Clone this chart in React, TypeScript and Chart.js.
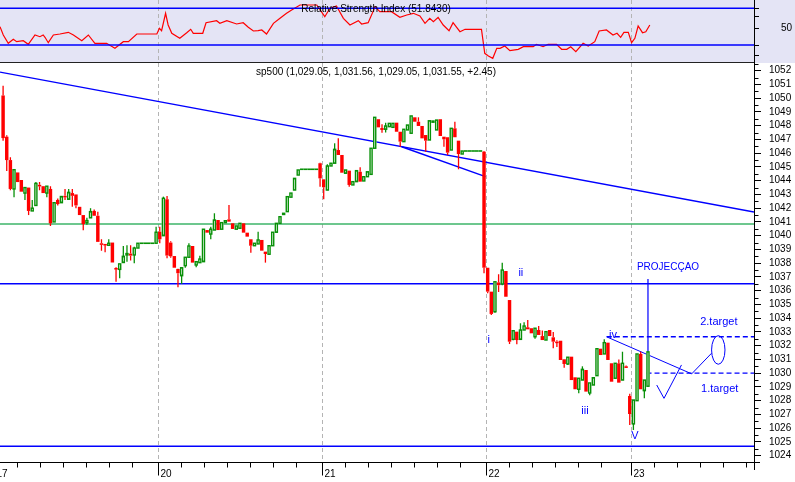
import React, { useEffect, useRef } from 'react';
import { Chart, registerables } from 'chart.js';
Chart.register(...registerables);

const FONT = '"Liberation Sans", Arial, Helvetica, sans-serif';
const BLUE = '#0000ff';
const RED = '#ff0000';
const GREEN = '#089008';
const LEVEL_GREEN = '#3cb468';
const GRID_GRAY = '#b4b4b4';
const RSI_BG = '#e4e4f5';

// ---- time axis (slots of one candle) ----
const X_MIN = 1.65;
const X_MAX = 208.6;
const dayLabels = ['17', '20', '21', '22', '23'];
const dayStartSlots = [0, 45, 90, 135, 174.8];
const hourTickStep = 6.3;

// ---- price axis ----
const Y_MIN = 1023.54;
const Y_MAX = 1052.56;
const priceTicks = [1024, 1025, 1026, 1027, 1028, 1029, 1030, 1031, 1032, 1033, 1034, 1035, 1036, 1037, 1038, 1039, 1040, 1041, 1042, 1043, 1044, 1045, 1046, 1047, 1048, 1049, 1050, 1051, 1052];

const mainTitle = 'sp500 (1,029.05, 1,031.56, 1,029.05, 1,031.55, +2.45)';
const rsiTitle = 'Relative Strength Index (51.8430)';

// ---- candles [open, high, low, close] ----
const day17Start = 2;
const day17 = [
  [1050.2, 1050.9, 1046.9, 1047.1], [1047.2, 1047.3, 1044.7, 1045.5], [1045.5, 1045.7, 1043.3, 1043.4],
  [1043.4, 1044.8, 1042.8, 1044.8], [1044.6, 1044.6, 1043.9, 1043.9], [1044.05, 1044.05, 1043.2, 1043.2],
  [1043.1, 1043.5, 1042.6, 1043.5], [1043.5, 1043.5, 1041.5, 1041.8], [1041.8, 1042.6, 1041.8, 1042.0],
  [1042.2, 1043.9, 1042.2, 1043.8], [1043.7, 1043.9, 1043.3, 1043.6], [1043.6, 1043.6, 1043.1, 1043.1],
  [1043.1, 1043.6, 1042.8, 1043.6], [1043.4, 1043.6, 1040.7, 1040.9], [1041.0, 1042.4, 1041.0, 1042.4],
  [1042.6, 1042.7, 1042.2, 1042.3], [1042.4, 1042.85, 1042.4, 1042.85], [1042.9, 1043.4, 1042.6, 1042.8],
  [1042.65, 1043.4, 1042.65, 1043.15], [1043.1, 1043.4, 1042.1, 1042.9], [1043.0, 1043.0, 1042.0, 1042.2],
  [1042.1, 1042.1, 1041.5, 1041.5], [1041.5, 1041.5, 1040.4, 1040.85], [1040.95, 1041.3, 1040.8, 1041.1],
  [1041.3, 1042.0, 1041.3, 1041.75], [1041.8, 1041.9, 1041.45, 1041.45], [1041.45, 1041.75, 1039.55, 1039.55],
  [1039.45, 1039.75, 1038.9, 1039.35], [1039.4, 1039.4, 1038.8, 1039.3], [1039.3, 1039.75, 1039.3, 1039.45],
  [1039.5, 1039.5, 1038.05, 1038.05], [1037.65, 1037.7, 1036.65, 1037.55], [1037.55, 1037.95, 1036.9, 1037.95],
  [1038.05, 1039.25, 1038.05, 1038.5], [1038.6, 1039.3, 1038.1, 1038.7], [1038.7, 1039.3, 1038.2, 1038.55],
  [1038.6, 1039.2, 1038.0, 1039.1], [1039.1, 1039.45, 1039.1, 1039.45],
  [1039.45, 1039.45, 1039.45, 1039.45], [1039.45, 1039.45, 1039.45, 1039.45],
  [1039.45, 1039.45, 1039.45, 1039.45], [1039.45, 1039.45, 1039.45, 1039.45],
];

const day20Start = 44;
const day20 = [
  [1039.45, 1040.65, 1039.45, 1040.25], [1040.29, 1040.65, 1039.45, 1039.74], [1040.0, 1042.84, 1040.0, 1042.72],
  [1042.65, 1042.89, 1038.36, 1038.55], [1039.5, 1039.6, 1038.4, 1038.5], [1038.52, 1038.52, 1037.67, 1037.67],
  [1037.58, 1037.6, 1036.25, 1037.27], [1037.09, 1037.67, 1036.49, 1037.67], [1037.82, 1038.43, 1037.67, 1038.43],
  [1038.43, 1039.45, 1038.43, 1039.25], [1039.25, 1039.25, 1038.04, 1038.04], [1037.87, 1038.11, 1037.7, 1038.11],
  [1038.04, 1038.55, 1038.04, 1038.3], [1038.11, 1040.47, 1038.11, 1040.47], [1040.41, 1040.41, 1040.22, 1040.22],
  [1040.12, 1040.65, 1039.74, 1040.47], [1040.41, 1041.63, 1040.41, 1041.14], [1041.14, 1041.14, 1040.41, 1040.41],
  [1040.47, 1040.95, 1040.47, 1040.95], [1040.95, 1041.09, 1040.95, 1041.09], [1041.19, 1042.23, 1041.02, 1041.02],
  [1040.9, 1040.9, 1040.49, 1040.49], [1040.47, 1040.71, 1040.47, 1040.71], [1040.54, 1040.9, 1040.54, 1040.9],
  [1040.9, 1040.9, 1040.22, 1040.22], [1040.22, 1040.22, 1039.93, 1039.93], [1039.74, 1039.74, 1038.76, 1039.27],
  [1039.27, 1039.45, 1039.27, 1039.45], [1039.4, 1040.29, 1039.4, 1039.69], [1039.69, 1039.69, 1038.91, 1038.91],
  [1038.84, 1038.84, 1038.04, 1038.67], [1038.65, 1039.27, 1038.65, 1039.27], [1039.27, 1040.25, 1039.27, 1040.25],
  [1040.25, 1040.9, 1040.25, 1040.9], [1040.9, 1041.38, 1040.9, 1041.38], [1041.58, 1041.63, 1041.58, 1041.63],
  [1041.75, 1042.84, 1041.75, 1042.84], [1042.8, 1043.1, 1042.8, 1043.1], [1043.32, 1044.17, 1043.32, 1044.17],
  [1044.41, 1044.78, 1044.41, 1044.78],
  [1044.83, 1044.83, 1044.83, 1044.83], [1044.83, 1044.83, 1044.83, 1044.83], [1044.83, 1044.83, 1044.83, 1044.83],
  [1044.83, 1044.83, 1044.83, 1044.83], [1044.83, 1044.83, 1044.83, 1044.83],
];

const day21Start = 89;
const day21 = [
  [1045.27, 1045.3, 1043.56, 1044.17], [1044.1, 1044.1, 1042.65, 1043.52], [1043.32, 1045.2, 1043.3, 1045.07],
  [1045.07, 1045.27, 1045.07, 1045.27], [1045.27, 1046.72, 1045.27, 1046.28], [1046.23, 1047.08, 1045.87, 1045.87],
  [1045.87, 1045.87, 1044.58, 1044.58], [1044.54, 1044.78, 1044.54, 1044.78], [1044.73, 1044.73, 1043.56, 1043.69],
  [1043.69, 1043.93, 1043.69, 1043.93], [1043.93, 1044.73, 1043.93, 1044.73], [1044.65, 1044.97, 1043.93, 1043.93],
  [1043.98, 1044.29, 1043.98, 1044.29], [1044.29, 1044.65, 1044.29, 1044.65], [1044.46, 1046.36, 1044.46, 1046.36],
  [1046.36, 1048.61, 1046.36, 1048.61], [1048.47, 1048.47, 1047.88, 1047.88], [1047.83, 1048.1, 1047.49, 1047.69],
  [1047.74, 1048.22, 1047.5, 1047.98], [1047.93, 1048.17, 1047.93, 1048.17], [1047.88, 1048.17, 1047.88, 1048.17],
  [1048.22, 1048.22, 1047.56, 1047.56], [1047.56, 1047.56, 1046.47, 1046.84], [1046.84, 1047.74, 1046.84, 1047.74],
  [1047.69, 1048.05, 1047.69, 1048.05], [1047.45, 1048.71, 1047.45, 1048.71], [1048.61, 1048.61, 1048.29, 1048.29],
  [1048.29, 1048.61, 1047.98, 1047.98], [1047.98, 1047.98, 1047.08, 1047.08], [1047.32, 1047.32, 1046.11, 1046.91],
  [1046.96, 1048.36, 1046.96, 1048.36], [1048.27, 1048.34, 1048.27, 1048.34], [1047.69, 1048.41, 1047.69, 1048.41],
  [1048.47, 1048.47, 1047.25, 1047.25], [1047.2, 1047.2, 1046.47, 1047.01], [1047.16, 1047.16, 1045.87, 1046.04],
  [1046.23, 1047.81, 1046.23, 1047.81], [1047.81, 1048.29, 1047.16, 1047.16], [1046.91, 1046.91, 1044.83, 1045.94],
  [1045.94, 1046.16, 1045.94, 1046.16],
  [1046.16, 1046.16, 1046.16, 1046.16], [1046.16, 1046.16, 1046.16, 1046.16], [1046.16, 1046.16, 1046.16, 1046.16],
  [1046.16, 1046.16, 1046.16, 1046.16], [1046.16, 1046.16, 1046.16, 1046.16],
];

const day22Start = 134;
const day22 = [
  [1046.11, 1046.16, 1037.27, 1037.67], [1037.67, 1037.67, 1035.81, 1035.93], [1035.93, 1035.93, 1034.23, 1034.31],
  [1034.47, 1036.65, 1034.4, 1036.65], [1036.6, 1037.2, 1035.9, 1036.4], [1036.49, 1038.04, 1036.4, 1037.5],
  [1037.43, 1037.43, 1035.56, 1035.56], [1035.32, 1035.32, 1032.12, 1032.29], [1032.46, 1033.09, 1032.4, 1033.09],
  [1033.02, 1033.02, 1032.1, 1032.41], [1032.46, 1033.63, 1032.46, 1033.14], [1033.14, 1033.7, 1033.14, 1033.43],
  [1033.34, 1033.87, 1033.19, 1033.19], [1033.27, 1033.27, 1032.9, 1032.9], [1032.65, 1033.27, 1032.5, 1033.27],
  [1033.14, 1033.43, 1032.78, 1032.78], [1032.7, 1033.1, 1032.41, 1032.41], [1032.41, 1033.02, 1032.41, 1033.02],
  [1033.14, 1033.14, 1032.7, 1032.7], [1032.61, 1033.0, 1031.81, 1032.29], [1032.3, 1032.4, 1031.9, 1032.2],
  [1032.36, 1032.36, 1030.96, 1030.96], [1031.01, 1031.01, 1030.4, 1030.67], [1030.67, 1031.16, 1030.6, 1031.16],
  [1031.2, 1031.2, 1029.5, 1029.5], [1029.7, 1029.7, 1028.83, 1028.83], [1028.83, 1029.63, 1028.54, 1029.63],
  [1029.5, 1030.5, 1029.5, 1030.28], [1030.23, 1030.23, 1028.66, 1028.66], [1028.56, 1029.29, 1028.4, 1029.29],
  [1029.14, 1029.67, 1029.14, 1029.67], [1029.82, 1031.78, 1029.82, 1031.78], [1031.78, 1031.78, 1031.32, 1031.32],
  [1031.4, 1032.46, 1031.4, 1032.22], [1032.22, 1032.22, 1030.96, 1030.96], [1030.72, 1030.72, 1029.38, 1029.38],
  [1029.63, 1030.72, 1029.63, 1030.72], [1030.72, 1031.0, 1029.31, 1029.31], [1029.5, 1031.56, 1029.5, 1030.72],
  [1030.5, 1030.55, 1030.4, 1030.47],
];

const day23Start = 174;
const day23 = [
  [1028.34, 1028.5, 1026.23, 1027.03], [1026.31, 1028.05, 1025.87, 1028.05], [1028.0, 1031.4, 1028.0, 1031.4],
  [1031.4, 1031.56, 1028.83, 1028.83], [1028.73, 1029.5, 1028.18, 1029.5], [1029.05, 1031.56, 1029.05, 1031.55],
];

const candleDays: [number, number[][]][] = [
  [day17Start, day17], [day20Start, day20], [day21Start, day21], [day22Start, day22], [day23Start, day23],
];

// ---- horizontal levels and drawn lines ----
const levelGreenValue = 1040.85;
const levelBlueUpper = 1036.5;
const levelBlueLower = 1024.68;
const target2Value = 1032.65;
const target1Value = 1030.0;
const target2FromSlot = 168.2;
const target1FromSlot = 179.1;
const trendMain = [[X_MIN, 1051.9], [X_MAX, 1041.72]];
const trendShort = [[111.9, 1046.47], [134.9, 1044.29]];
const ivLine = [[168.1, 1032.65], [191.5, 1029.95]];
const riseLine = [[191.5, 1029.95], [196.95, 1031.45]];
const vShape = [[181.9, 1029.14], [183.9, 1028.17], [188.7, 1030.6]];
const projLine = [[179.5, 1036.85], [179.5, 1031.33]];
const ellipseCenter = [198.8, 1031.69];
const ellipseRadii = [1.84, 1.04];

const noteTexts = ['PROJECÇAO', '2.target', '1.target', 'i', 'ii', 'iii', 'iv', 'V'];
const noteSlots = [185.0, 198.95, 199.2, 135.8, 144.6, 162.2, 169.9, 175.9];
const noteValues = [1037.71, 1033.72, 1028.85, 1032.41, 1037.29, 1027.25, 1032.8, 1025.44];
const noteSizes = [10, 11, 11, 11, 11, 11, 11, 11];

// ---- RSI ----
const RSI_MIN = 15.3;
const RSI_MAX = 78.3;
const rsiUpper = 70;
const rsiLower = 33.3;
const rsiTicks = [23.3, 33.3, 50, 61.6, 70];
const rsiSlots = [1.65, 2.55, 3.92, 5.3, 6.23, 8.04, 9.41, 11.25, 12.6, 13.5, 14.0, 14.9, 16.3, 18.1, 20.4, 21.8, 24.1, 25.9, 27.7, 30.9, 33.2, 35.5, 36.9, 39.2, 44.7, 45.4, 46.0, 47.1, 47.8, 48.8, 51.0, 52.9, 54.0, 54.7, 57.3, 58.2, 61.1, 62.0, 63.9, 66.6, 68.4, 69.8, 71.2, 72.5, 73.5, 74.8, 76.7, 78.5, 80.3, 81.7, 84.0, 88.6, 90.8, 92.2, 94.0, 95.9, 97.7, 100.0, 100.9, 102.7, 104.6, 105.9, 109.1, 111.4, 113.3, 115.1, 116.9, 118.3, 119.6, 120.6, 121.9, 123.3, 124.9, 126.0, 127.9, 129.3, 133.8, 134.7, 135.7, 136.9, 138.0, 138.9, 140.2, 141.6, 143.9, 145.3, 148.0, 148.9, 150.7, 152.1, 154.4, 155.8, 157.2, 158.3, 159.7, 161.7, 163.1, 164.9, 166.1, 168.1, 169.9, 171.0, 172.0, 172.9, 174.1, 175.0, 175.9, 176.8, 178.0, 178.9, 180.0];
const rsiValues = [51.6, 43.3, 35.0, 39.0, 36.6, 37.6, 34.0, 43.3, 41.6, 43.3, 41.0, 35.6, 43.3, 44.3, 46.0, 43.3, 37.6, 43.3, 35.0, 35.0, 30.0, 36.6, 36.6, 44.3, 44.3, 50.0, 47.6, 65.0, 53.3, 45.0, 40.0, 45.6, 49.0, 45.0, 45.0, 55.6, 57.6, 55.0, 57.6, 54.3, 55.6, 51.0, 47.3, 47.6, 48.3, 44.3, 55.0, 60.0, 65.0, 68.3, 73.3, 73.3, 61.6, 70.0, 72.3, 60.0, 53.3, 57.6, 54.3, 55.6, 71.6, 66.6, 66.6, 61.0, 63.3, 65.0, 62.3, 55.0, 60.0, 56.6, 61.0, 53.3, 47.6, 55.6, 46.6, 49.0, 49.0, 25.0, 22.3, 20.0, 30.0, 30.0, 32.3, 27.6, 29.0, 31.6, 31.6, 34.0, 31.6, 34.0, 34.0, 29.0, 29.0, 31.6, 26.6, 35.0, 32.3, 36.6, 47.3, 48.3, 43.3, 45.0, 41.0, 46.0, 46.0, 35.6, 40.0, 52.3, 45.6, 46.6, 53.3];

const pts = (arr: number[][]) => arr.map(([x, y]) => ({ x, y }));

const dayGridPlugin = {
  id: 'dayGrid',
  beforeDatasetsDraw(chart: any) {
    const { ctx, chartArea: a, scales: { x } } = chart;
    ctx.save();
    ctx.strokeStyle = GRID_GRAY;
    ctx.lineWidth = 1;
    ctx.setLineDash([4, 3]);
    dayStartSlots.forEach((s) => {
      const px = Math.round(x.getPixelForValue(s)) + 0.5;
      if (px < a.left || px > a.right) return;
      ctx.beginPath();
      ctx.moveTo(px, a.top);
      ctx.lineTo(px, a.bottom);
      ctx.stroke();
    });
    ctx.restore();
  },
};

const candlePlugin = {
  id: 'candles',
  afterDatasetsDraw(chart: any) {
    const { ctx, chartArea: a, scales: { x, y } } = chart;
    ctx.save();
    ctx.beginPath();
    ctx.rect(a.left, a.top, a.right - a.left, a.bottom - a.top);
    ctx.clip();
    const slotPx = x.getPixelForValue(1) - x.getPixelForValue(0);
    const bodyW = slotPx - 0.2;
    candleDays.forEach(([start, arr]) => {
      arr.forEach((c, i) => {
        const [o, h, l, cl] = c;
        const cx = x.getPixelForValue(start + i + 0.5);
        if (o === h && h === l && l === cl) {
          const yy = y.getPixelForValue(o);
          ctx.strokeStyle = GREEN;
          ctx.lineWidth = 1.6;
          ctx.beginPath();
          ctx.moveTo(cx - slotPx / 2, yy);
          ctx.lineTo(cx + slotPx / 2, yy);
          ctx.stroke();
          return;
        }
        const up = cl >= o;
        const col = up ? GREEN : RED;
        const yo = y.getPixelForValue(o);
        const yc = y.getPixelForValue(cl);
        const yh = y.getPixelForValue(h);
        const yl = y.getPixelForValue(l);
        const top = Math.min(yo, yc);
        const bot = Math.max(yo, yc);
        ctx.strokeStyle = col;
        ctx.lineWidth = 1.3;
        ctx.beginPath();
        ctx.moveTo(cx, yh);
        ctx.lineTo(cx, top);
        ctx.moveTo(cx, bot);
        ctx.lineTo(cx, yl);
        ctx.stroke();
        if (up) {
          const hgt = Math.max(bot - top, 1.2);
          ctx.fillStyle = '#ffffff';
          ctx.fillRect(cx - bodyW / 2, top, bodyW, hgt);
          ctx.lineWidth = 1.4;
          ctx.strokeRect(cx - bodyW / 2 + 0.7, top, bodyW - 1.4, hgt);
        } else {
          ctx.fillStyle = col;
          ctx.fillRect(cx - bodyW / 2, top, bodyW, Math.max(bot - top, 1.6));
        }
      });
    });
    ctx.restore();
  },
};

const mainOverlayPlugin = {
  id: 'mainOverlay',
  afterDraw(chart: any) {
    const { ctx, chartArea: a, scales: { x, y } } = chart;
    ctx.save();
    ctx.fillStyle = '#000';
    ctx.font = `10px ${FONT}`;
    ctx.textAlign = 'center';
    ctx.textBaseline = 'middle';
    ctx.fillText(mainTitle, 376, a.top + 9);
    ctx.fillStyle = BLUE;
    noteTexts.forEach((t, i) => {
      ctx.font = `${noteSizes[i]}px ${FONT}`;
      ctx.fillText(t, x.getPixelForValue(noteSlots[i]), y.getPixelForValue(noteValues[i]));
    });
    ctx.strokeStyle = BLUE;
    ctx.lineWidth = 1;
    const ex = x.getPixelForValue(ellipseCenter[0]);
    const ey = y.getPixelForValue(ellipseCenter[1]);
    const rx = Math.abs(x.getPixelForValue(ellipseCenter[0] + ellipseRadii[0]) - ex);
    const ry = Math.abs(y.getPixelForValue(ellipseCenter[1] + ellipseRadii[1]) - ey);
    ctx.beginPath();
    ctx.ellipse(ex, ey, rx, ry, 0, 0, Math.PI * 2);
    ctx.stroke();
    // x axis
    const b = Math.round(a.bottom) + 0.5;
    ctx.strokeStyle = '#000';
    ctx.lineWidth = 1;
    ctx.beginPath();
    ctx.moveTo(0, b);
    ctx.lineTo(a.right + 6, b);
    ctx.stroke();
    ctx.font = `10px ${FONT}`;
    ctx.fillStyle = '#000';
    ctx.textAlign = 'left';
    dayStartSlots.forEach((s, i) => {
      const px = Math.round(x.getPixelForValue(s)) + 0.5;
      ctx.beginPath();
      ctx.moveTo(px, b);
      ctx.lineTo(px, b + 13);
      ctx.stroke();
      ctx.fillText(dayLabels[i], px + 2, b + 12);
      const end = i + 1 < dayStartSlots.length ? dayStartSlots[i + 1] : X_MAX;
      for (let t = s + hourTickStep; t < end - 2; t += hourTickStep) {
        const tp = Math.round(x.getPixelForValue(t)) + 0.5;
        ctx.beginPath();
        ctx.moveTo(tp, b);
        ctx.lineTo(tp, b + 5);
        ctx.stroke();
      }
    });
    const ax = Math.round(a.right) + 0.5;
    ctx.beginPath();
    ctx.moveTo(ax, a.bottom);
    ctx.lineTo(ax, a.bottom + 8);
    for (let v = priceTicks[0] - 0.5; v <= priceTicks[priceTicks.length - 1] + 0.5; v += 1) {
      const py = Math.round(y.getPixelForValue(v)) + 0.5;
      if (py < a.top || py > a.bottom) continue;
      ctx.moveTo(ax, py);
      ctx.lineTo(ax + 4, py);
    }
    ctx.stroke();
    ctx.restore();
  },
};

const rsiOverlayPlugin = {
  id: 'rsiOverlay',
  afterDraw(chart: any) {
    const { ctx, chartArea: a } = chart;
    ctx.save();
    ctx.fillStyle = '#000';
    ctx.font = `10px ${FONT}`;
    ctx.textAlign = 'center';
    ctx.textBaseline = 'middle';
    ctx.fillText(rsiTitle, 376, a.top + 9);
    ctx.strokeStyle = '#222';
    ctx.lineWidth = 1;
    ctx.beginPath();
    ctx.moveTo(0, a.bottom - 0.5);
    ctx.lineTo(a.right, a.bottom - 0.5);
    ctx.stroke();
    ctx.restore();
  },
};

const lineDs = (data: number[][], color: string, width: number, dash: number[] = []) => ({
  data: pts(data),
  borderColor: color,
  borderWidth: width,
  borderDash: dash,
  pointRadius: 0,
  fill: false,
  tension: 0,
});

export default function App() {
  const rsiRef = useRef<HTMLCanvasElement | null>(null);
  const mainRef = useRef<HTMLCanvasElement | null>(null);

  useEffect(() => {
    const rsiChart = new Chart(rsiRef.current as HTMLCanvasElement, {
      type: 'line',
      data: {
        datasets: [
          lineDs([[X_MIN, rsiUpper], [X_MAX, rsiUpper]], BLUE, 1.5),
          lineDs([[X_MIN, rsiLower], [X_MAX, rsiLower]], BLUE, 1.5),
          lineDs(rsiSlots.map((s, i) => [s, rsiValues[i]]), RED, 1.2),
        ] as any,
      },
      options: {
        animation: false,
        responsive: false,
        maintainAspectRatio: false,
        events: [],
        layout: { padding: 0 },
        plugins: { legend: { display: false }, tooltip: { enabled: false } },
        scales: {
          x: { type: 'linear', min: X_MIN, max: X_MAX, display: false },
          y: {
            type: 'linear',
            position: 'right',
            min: RSI_MIN,
            max: RSI_MAX,
            afterFit: (s: any) => { s.width = 41; s.paddingTop = 0; s.paddingBottom = 0; },
            afterBuildTicks: (s: any) => { s.ticks = rsiTicks.map((v) => ({ value: v })); },
            grid: { drawOnChartArea: false, drawTicks: true, tickLength: 5, color: '#000', tickColor: '#000' },
            border: { display: true, color: '#000', width: 1 },
            ticks: {
              autoSkip: false,
              padding: 22,
              color: '#000',
              font: { family: FONT, size: 10 },
              callback: (v: any) => (Number(v) === 50 ? '50' : ''),
            },
          },
        },
      } as any,
      plugins: [dayGridPlugin, rsiOverlayPlugin],
    });

    const mainChart = new Chart(mainRef.current as HTMLCanvasElement, {
      type: 'line',
      data: {
        datasets: [
          lineDs([[X_MIN, levelGreenValue], [X_MAX, levelGreenValue]], LEVEL_GREEN, 1.5),
          lineDs([[X_MIN, levelBlueUpper], [X_MAX, levelBlueUpper]], BLUE, 1.5),
          lineDs([[X_MIN, levelBlueLower], [X_MAX, levelBlueLower]], BLUE, 1.5),
          lineDs(trendMain, BLUE, 1.4),
          lineDs(trendShort, BLUE, 1.4),
          lineDs([[target2FromSlot, target2Value], [X_MAX, target2Value]], BLUE, 1.3, [5, 3]),
          lineDs([[target1FromSlot, target1Value], [X_MAX, target1Value]], BLUE, 1.3, [5, 3]),
          lineDs(ivLine, BLUE, 1),
          lineDs(riseLine, BLUE, 1),
          lineDs(vShape, BLUE, 1),
          lineDs(projLine, BLUE, 1.2),
        ] as any,
      },
      options: {
        animation: false,
        responsive: false,
        maintainAspectRatio: false,
        events: [],
        layout: { padding: { left: 0, right: 0, top: 0, bottom: 20 } },
        plugins: { legend: { display: false }, tooltip: { enabled: false } },
        scales: {
          x: { type: 'linear', min: X_MIN, max: X_MAX, display: false },
          y: {
            type: 'linear',
            position: 'right',
            min: Y_MIN,
            max: Y_MAX,
            afterFit: (s: any) => { s.width = 41; s.paddingTop = 0; s.paddingBottom = 0; },
            afterBuildTicks: (s: any) => { s.ticks = priceTicks.map((v) => ({ value: v })); },
            grid: { drawOnChartArea: false, drawTicks: true, tickLength: 7, color: '#000', tickColor: '#000' },
            border: { display: true, color: '#000', width: 1 },
            ticks: {
              autoSkip: false,
              padding: 8,
              color: '#000',
              font: { family: FONT, size: 10 },
              callback: (v: any) => String(v),
            },
          },
        },
      } as any,
      plugins: [dayGridPlugin, candlePlugin, mainOverlayPlugin],
    });

    return () => {
      rsiChart.destroy();
      mainChart.destroy();
    };
  }, []);

  return (
    <div style={{ position: 'absolute', left: 0, top: 0, width: 795, height: 482, background: '#ffffff', overflow: 'hidden' }}>
      <div style={{ position: 'absolute', left: 0, top: 0, width: 795, height: 63, background: RSI_BG }}>
        <canvas ref={rsiRef} width={795} height={63} style={{ display: 'block', width: 795, height: 63 }} />
      </div>
      <div style={{ position: 'absolute', left: 0, top: 63, width: 795, height: 419 }}>
        <canvas ref={mainRef} width={795} height={419} style={{ display: 'block', width: 795, height: 419 }} />
      </div>
    </div>
  );
}
